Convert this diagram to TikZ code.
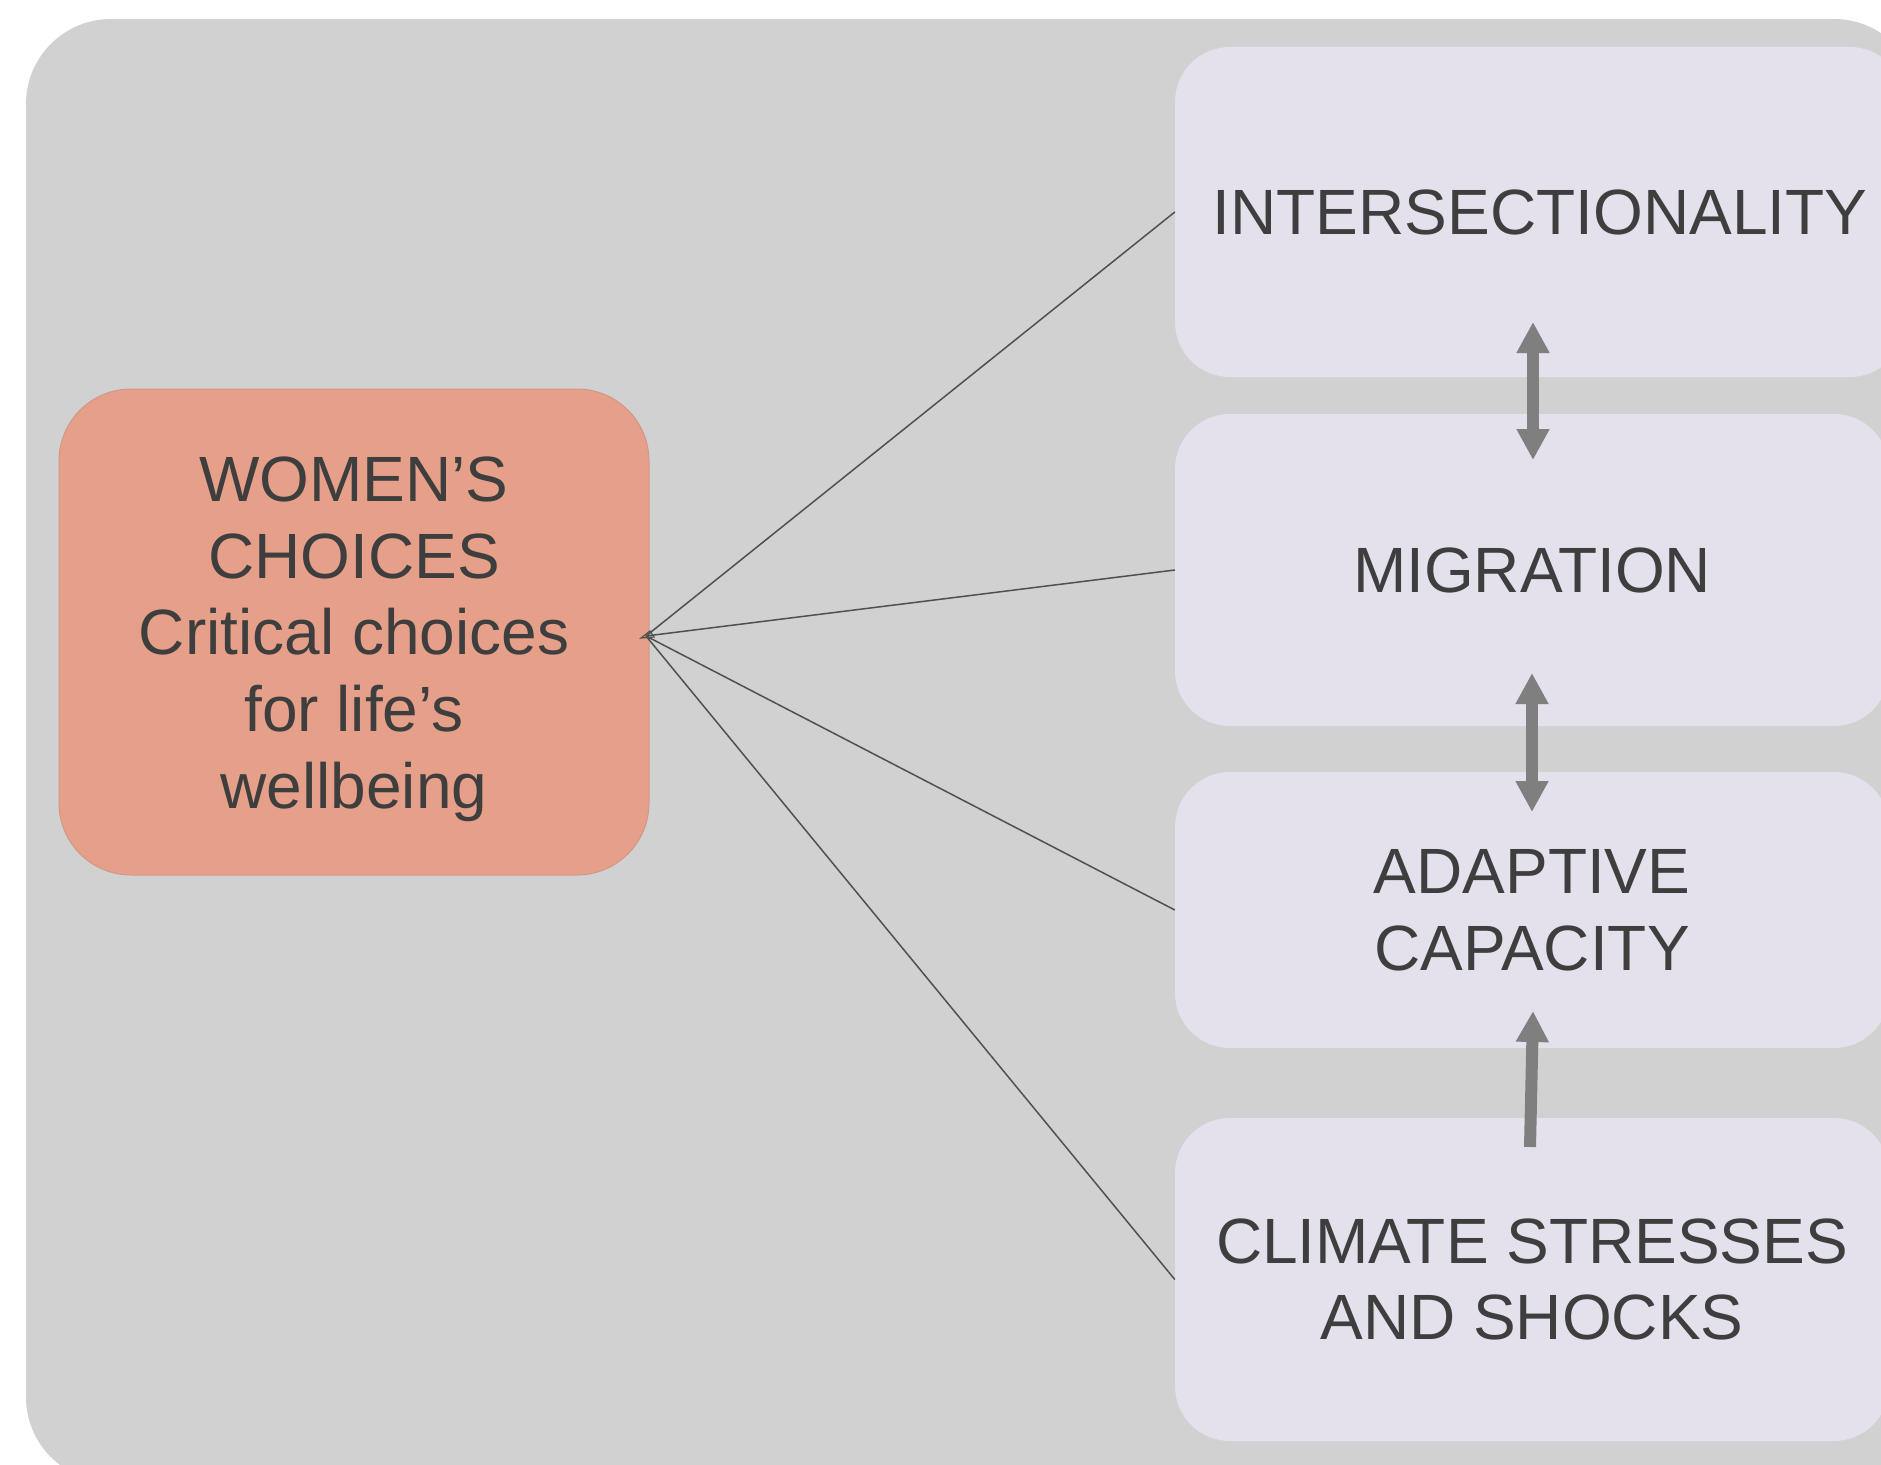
\documentclass[tikz,border=0pt]{standalone}
\usepackage{fontspec}
\setmainfont{Liberation Sans}
\usetikzlibrary{arrows.meta}
\definecolor{bggray}{HTML}{D1D1D1}
\definecolor{lav}{HTML}{E4E0EC}
\definecolor{salmonfill}{HTML}{E6A08A}
\definecolor{salmonedge}{HTML}{D09888}
\definecolor{txt}{HTML}{3E3E3E}
\definecolor{arrgray}{HTML}{7F7F7F}
\definecolor{linegray}{HTML}{505050}
\begin{document}
\begin{tikzpicture}[x=1pt,y=-1pt,
  bigtext/.style={text=txt, font=\fontsize{64}{76.6}\selectfont, align=center, inner sep=0pt},
  lavbox/.style={bigtext, fill=lav, rounded corners=55pt},
  choicebox/.style={bigtext, fill=salmonfill, draw=salmonedge, line width=1pt, rounded corners=72pt},
  conn/.style={draw=linegray, line width=1.5pt},
  fatarrow/.style={draw=arrgray, line width=12pt, >={Triangle[width=31pt,length=31pt]}}
]
\clip (0,0) rectangle (1881,1464);
\fill[white] (0,0) rectangle (1881,1464);
\fill[bggray, rounded corners=85pt] (26,19) rectangle (1919,1482);

\node[lavbox, minimum width=730pt, minimum height=330pt] (inter) at (1540,212) {INTERSECTIONALITY};
\node[lavbox, minimum width=714pt, minimum height=312pt] (mig) at (1532,570) {MIGRATION};
\node[lavbox, minimum width=714pt, minimum height=276pt] (adapt) at (1532,910) {ADAPTIVE\\CAPACITY};
\node[lavbox, minimum width=714pt, minimum height=323pt] (climate) at (1532,1279.5) {CLIMATE STRESSES\\AND SHOCKS};

\node[choicebox, minimum width=590pt, minimum height=486pt] (wc) at (354,632)
  {\rule{0pt}{59pt}WOMEN’S\\CHOICES\\Critical choices\\for life’s\\wellbeing};

\coordinate (hub) at (646,636);
\draw[conn] (hub) -- (inter.west);
\draw[conn] (hub) -- (mig.west);
\draw[conn] (hub) -- (adapt.west);
\draw[conn] (hub) -- (climate.west);
\draw[draw=linegray, line width=1.2pt] (641,638) -- (650,631) -- (654,637) -- cycle;

\coordinate (a1t) at (1533,322);
\coordinate (a1b) at (1533,460);
\coordinate (a2t) at (1532,673);
\coordinate (a2b) at (1532,812);
\coordinate (a3t) at (1533,1011);
\coordinate (a3b) at (1530,1147);
\draw[fatarrow, <->] (a1t) -- (a1b);
\draw[fatarrow, <->] (a2t) -- (a2b);
\draw[fatarrow, ->] (a3b) -- (a3t);
\end{tikzpicture}
\end{document}
